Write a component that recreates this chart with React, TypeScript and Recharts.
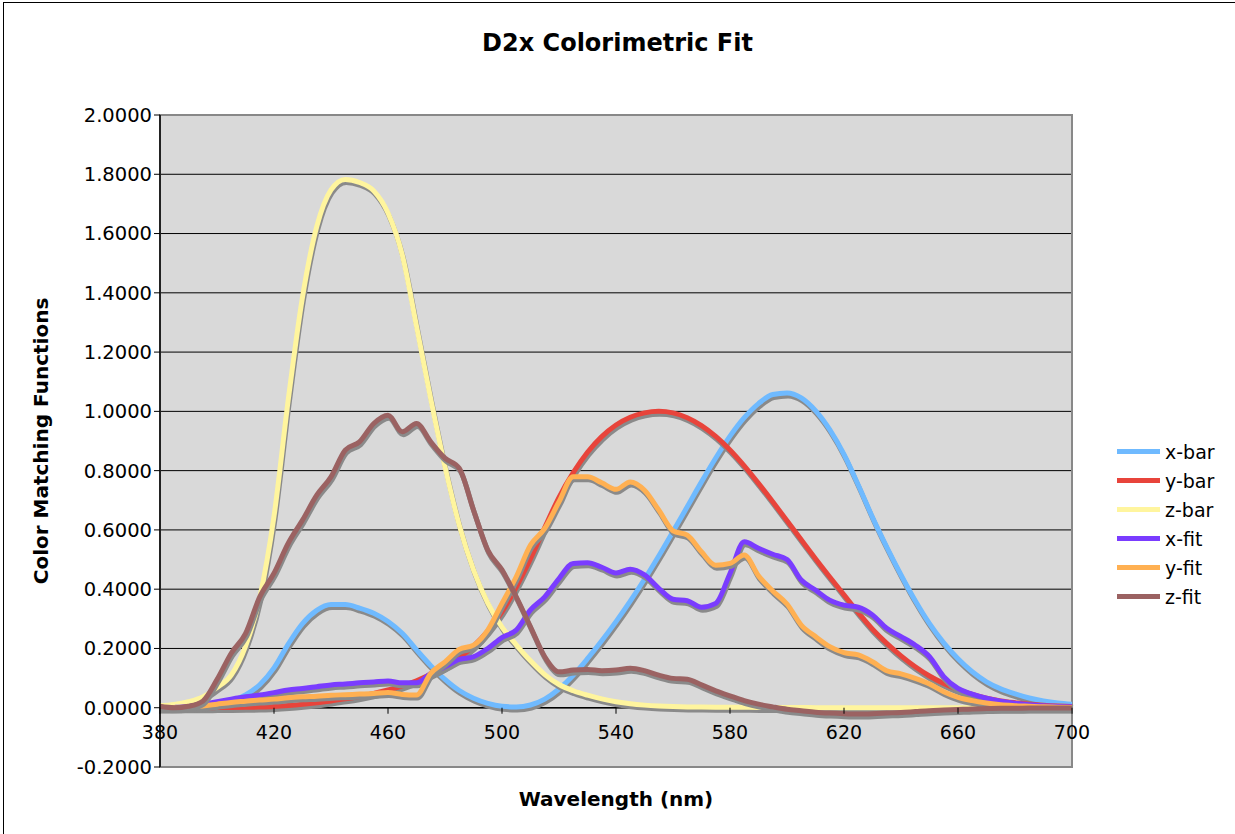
import { CartesianGrid, Line, LineChart, ReferenceArea, ReferenceLine, XAxis, YAxis } from 'recharts'

// wavelength in nm, 5 nm steps
const WAVELENGTHS = [
  380, 385, 390, 395, 400, 405, 410, 415, 420, 425, 430, 435, 440, 445, 450, 455, 460, 465, 470, 475, 480, 485,
  490, 495, 500, 505, 510, 515, 520, 525, 530, 535, 540, 545, 550, 555, 560, 565, 570, 575, 580, 585, 590, 595,
  600, 605, 610, 615, 620, 625, 630, 635, 640, 645, 650, 655, 660, 665, 670, 675, 680, 685, 690, 695, 700,
]

const X_BAR = [
  0.0014, 0.0022, 0.0042, 0.0077, 0.0143, 0.0232, 0.0435, 0.0776, 0.1344, 0.2148, 0.2839, 0.3285, 0.3483, 0.3481,
  0.3362, 0.3187, 0.2908, 0.2511, 0.1954, 0.1421, 0.0956, 0.058, 0.032, 0.0147, 0.0049, 0.0024, 0.0093, 0.0291,
  0.0633, 0.1096, 0.1655, 0.2258, 0.2904, 0.3597, 0.4335, 0.5121, 0.5945, 0.6784, 0.7621, 0.8425, 0.9163, 0.9786,
  1.0263, 1.0567, 1.0622, 1.0456, 1.0026, 0.9384, 0.8545, 0.7514, 0.6424, 0.5419, 0.4479, 0.3608, 0.2835, 0.2187,
  0.1649, 0.1212, 0.0874, 0.0636, 0.0468, 0.0329, 0.0227, 0.0158, 0.0114,
]

const Y_BAR = [
  0.0, 0.0001, 0.0001, 0.0002, 0.0004, 0.0006, 0.0012, 0.0022, 0.004, 0.0073, 0.0116, 0.0168, 0.023, 0.0298, 0.038,
  0.048, 0.06, 0.0739, 0.091, 0.1126, 0.139, 0.1693, 0.208, 0.2586, 0.323, 0.4073, 0.503, 0.6082, 0.71, 0.7932,
  0.862, 0.9149, 0.954, 0.9803, 0.995, 1.0, 0.995, 0.9786, 0.952, 0.9154, 0.87, 0.8163, 0.757, 0.6949, 0.631,
  0.5668, 0.503, 0.4412, 0.381, 0.321, 0.265, 0.217, 0.175, 0.1382, 0.107, 0.0816, 0.061, 0.0446, 0.032, 0.0232,
  0.017, 0.0119, 0.0082, 0.0057, 0.0041,
]

const Z_BAR = [
  0.0065, 0.0106, 0.0201, 0.0362, 0.0679, 0.1102, 0.2074, 0.3713, 0.6456, 1.0391, 1.3856, 1.623, 1.7471, 1.7826,
  1.7721, 1.7441, 1.6692, 1.5281, 1.2876, 1.0419, 0.813, 0.6162, 0.4652, 0.3533, 0.272, 0.2123, 0.1582, 0.1117,
  0.0783, 0.0573, 0.0422, 0.0298, 0.0203, 0.0134, 0.0088, 0.0058, 0.0039, 0.0028, 0.0021, 0.0018, 0.0017, 0.0014,
  0.0011, 0.001, 0.0008, 0.0006, 0.0003, 0.0002, 0.0002, 0.0001, 0.0001, 0.0, 0.0, 0.0, 0.0, 0.0, 0.0, 0.0, 0.0,
  0.0, 0.0, 0.0, 0.0, 0.0, 0.0,
]

const X_FIT = [
  0.0, 0.001, 0.004, 0.012, 0.02, 0.029, 0.037, 0.043, 0.051, 0.06, 0.065, 0.071, 0.077, 0.08, 0.084, 0.087, 0.09,
  0.084, 0.084, 0.116, 0.138, 0.163, 0.172, 0.2, 0.237, 0.262, 0.33, 0.374, 0.436, 0.487, 0.489, 0.474, 0.455, 0.467,
  0.448, 0.403, 0.366, 0.361, 0.339, 0.352, 0.453, 0.56, 0.538, 0.518, 0.5, 0.431, 0.397, 0.363, 0.346, 0.339, 0.313,
  0.268, 0.24, 0.211, 0.172, 0.105, 0.065, 0.046, 0.032, 0.022, 0.015, 0.01, 0.007, 0.004, 0.003,
]

const Y_FIT = [
  0.0, 0.0, 0.002, 0.006, 0.012, 0.018, 0.022, 0.026, 0.029, 0.034, 0.037, 0.039, 0.042, 0.044, 0.046, 0.048, 0.051,
  0.045, 0.043, 0.116, 0.155, 0.197, 0.211, 0.262, 0.352, 0.442, 0.549, 0.605, 0.695, 0.779, 0.779, 0.759, 0.737,
  0.762, 0.734, 0.667, 0.597, 0.582, 0.526, 0.481, 0.487, 0.515, 0.445, 0.394, 0.35, 0.279, 0.24, 0.206, 0.186,
  0.178, 0.155, 0.125, 0.114, 0.099, 0.08, 0.054, 0.035, 0.024, 0.016, 0.01, 0.007, 0.005, 0.003, 0.002, 0.001,
]

const Z_FIT = [
  0.005, 0.0, 0.005, 0.022, 0.095, 0.184, 0.25, 0.374, 0.454, 0.555, 0.633, 0.717, 0.779, 0.869, 0.897, 0.959, 0.987,
  0.931, 0.959, 0.897, 0.842, 0.808, 0.667, 0.532, 0.465, 0.374, 0.273, 0.172, 0.121, 0.127, 0.129, 0.125, 0.127,
  0.133, 0.125, 0.11, 0.099, 0.096, 0.077, 0.057, 0.04, 0.024, 0.012, 0.003, -0.005, -0.01, -0.015, -0.018, -0.02,
  -0.021, -0.02, -0.018, -0.016, -0.013, -0.01, -0.008, -0.006, -0.004, -0.003, -0.002, -0.002, -0.001, -0.001,
  -0.001, -0.001,
]

const X_TICKS = [380, 420, 460, 500, 540, 580, 620, 660, 700]
const Y_TICKS = [-0.2, 0, 0.2, 0.4, 0.6, 0.8, 1.0, 1.2, 1.4, 1.6, 1.8, 2.0]

const SERIES = [
  { key: 'xbar', name: 'x-bar', color: '#6fbaff' },
  { key: 'ybar', name: 'y-bar', color: '#e8443b' },
  { key: 'zbar', name: 'z-bar', color: '#fff59e' },
  { key: 'xfit', name: 'x-fit', color: '#7a3cff' },
  { key: 'yfit', name: 'y-fit', color: '#ffb052' },
  { key: 'zfit', name: 'z-fit', color: '#9b6262' },
]

const data = WAVELENGTHS.map((wl, i) => ({
  wl,
  xbar: X_BAR[i],
  ybar: Y_BAR[i],
  zbar: Z_BAR[i],
  xfit: X_FIT[i],
  yfit: Y_FIT[i],
  zfit: Z_FIT[i],
}))

const FONT = '"DejaVu Sans", Verdana, sans-serif'
const PLOT_TOP = 115
const PLOT_BOTTOM = 767
const ZERO_OFFSET = (PLOT_BOTTOM - PLOT_TOP) / 11 // distance from bottom edge up to y = 0

function WavelengthTick(props: any) {
  const { x, payload } = props
  const y0 = PLOT_BOTTOM - ZERO_OFFSET
  return (
    <g>
      <line x1={x} x2={x} y1={y0} y2={y0 + 6} stroke="#000" strokeWidth={1} />
      <text x={x} y={y0 + 31} textAnchor="middle" fontSize={19} fontFamily={FONT} fill="#000">
        {payload.value}
      </text>
    </g>
  )
}

export default function App() {
  return (
    <div style={{ position: 'relative', width: 1235, height: 834, background: '#fff' }}>
      <style>{`
        body { margin: 0; }
        .recharts-line-curve { filter: drop-shadow(1px 3px 0 #8a8a8a); }
      `}</style>
      <div
        style={{
          position: 'absolute',
          left: 3,
          top: 2,
          right: 0,
          bottom: 0,
          borderLeft: '1px solid #000',
          borderTop: '1px solid #000',
          pointerEvents: 'none',
        }}
      />
      <div
        style={{
          position: 'absolute',
          left: 0,
          top: 29,
          width: 1235,
          textAlign: 'center',
          fontFamily: FONT,
          fontWeight: 'bold',
          fontSize: 24,
        }}
      >
        D2x Colorimetric Fit
      </div>
      <div
        style={{
          position: 'absolute',
          left: 160,
          width: 912,
          top: 787,
          textAlign: 'center',
          fontFamily: FONT,
          fontWeight: 'bold',
          fontSize: 20,
        }}
      >
        Wavelength (nm)
      </div>
      <div
        style={{
          position: 'absolute',
          left: 41,
          top: 441,
          transform: 'translate(-50%, -50%) rotate(-90deg)',
          whiteSpace: 'nowrap',
          fontFamily: FONT,
          fontWeight: 'bold',
          fontSize: 20,
        }}
      >
        Color Matching Functions
      </div>
      <div style={{ position: 'absolute', left: 1117, top: 437, fontFamily: FONT, fontSize: 19, color: '#000' }}>
        {SERIES.map((s) => (
          <div key={s.key} style={{ display: 'flex', alignItems: 'center', height: 29 }}>
            <span style={{ display: 'inline-block', width: 43, height: 5, background: s.color, marginRight: 5 }} />
            <span>{s.name}</span>
          </div>
        ))}
      </div>
      <LineChart
        width={1235}
        height={834}
        data={data}
        margin={{ top: PLOT_TOP, right: 163, bottom: 834 - PLOT_BOTTOM - 30, left: 0 }}
        style={{ position: 'absolute', left: 0, top: 0 }}
      >
        <CartesianGrid vertical={false} stroke="#000" strokeWidth={1} fill="#d9d9d9" fillOpacity={1} />
        <ReferenceArea
          x1={380}
          x2={700}
          y1={-0.2}
          y2={2.0}
          fill="none"
          fillOpacity={0}
          stroke="#888"
          strokeWidth={2}
        />
        <XAxis
          dataKey="wl"
          type="number"
          domain={[380, 700]}
          ticks={X_TICKS}
          axisLine={false}
          tickLine={false}
          height={30}
          tick={<WavelengthTick />}
          interval={0}
        />
        <YAxis
          type="number"
          domain={[-0.2, 2.0]}
          ticks={Y_TICKS}
          width={160}
          interval={0}
          tickFormatter={(v: number) => v.toFixed(4)}
          tick={{ fill: '#000', fontSize: 19.5, fontFamily: FONT }}
          axisLine={{ stroke: '#000', strokeWidth: 1.5 }}
          tickLine={{ stroke: '#000' }}
          tickSize={6}
        />
        <ReferenceLine y={0} stroke="#000" strokeWidth={1.5} />
        {SERIES.map((s) => (
          <Line
            key={s.key}
            dataKey={s.key}
            name={s.name}
            type="monotone"
            stroke={s.color}
            strokeWidth={5}
            dot={false}
            activeDot={false}
            isAnimationActive={false}
          />
        ))}
      </LineChart>
    </div>
  )
}
